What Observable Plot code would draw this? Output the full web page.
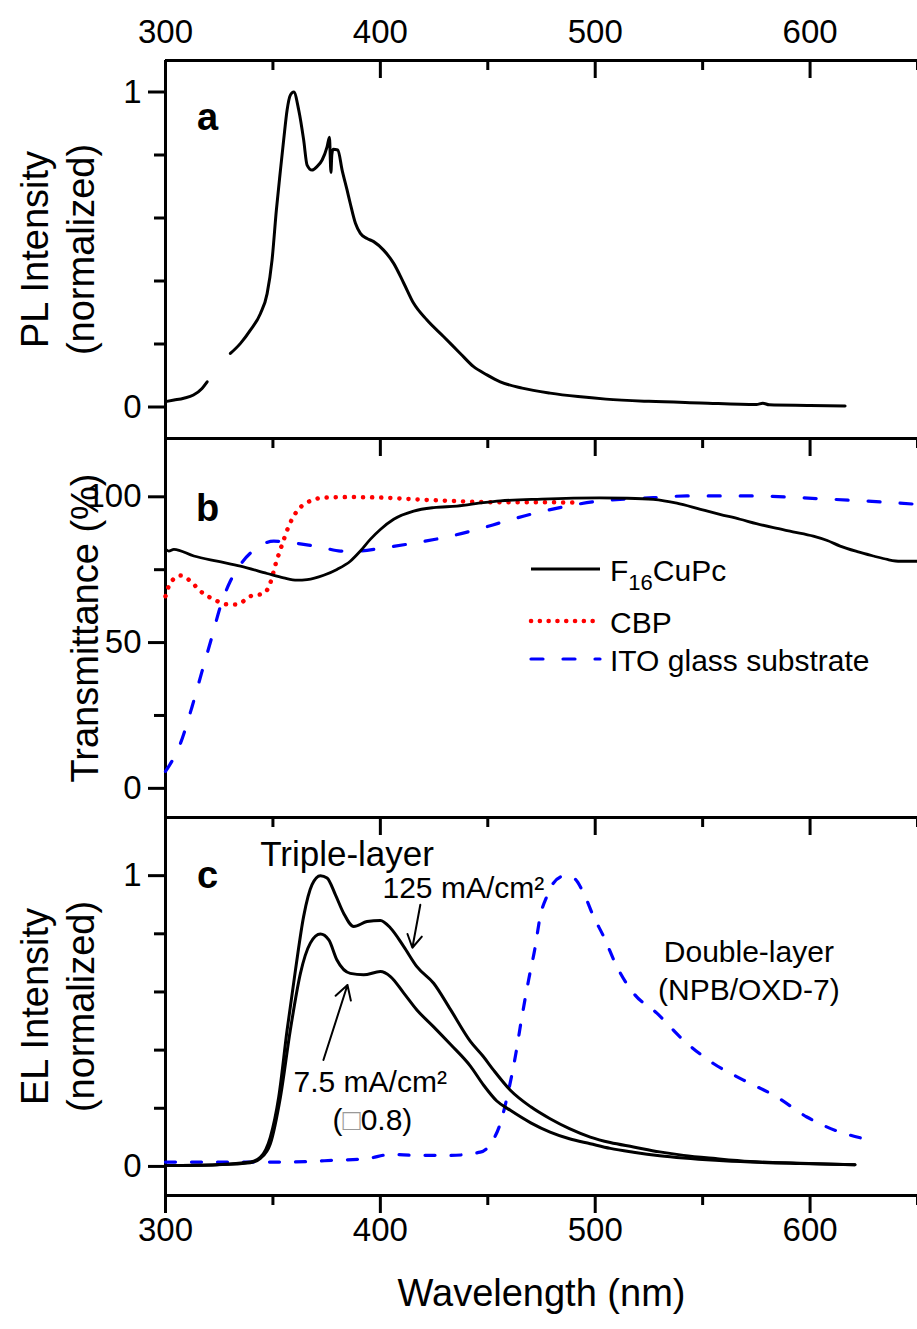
<!DOCTYPE html>
<html>
<head>
<meta charset="utf-8">
<script src="https://cdn.jsdelivr.net/npm/d3@7"></script>
<script src="https://cdn.jsdelivr.net/npm/@observablehq/plot@0.6"></script>
<style>
  body { margin: 0; background: #fff; }
  #chart { position: relative; width: 917px; height: 1329px; overflow: hidden; background: #fff; }
  #chart svg { position: absolute; left: 0; }
</style>
</head>
<body>
<div id="chart"></div>
<script>
// ---------------- data ----------------
const xMajorTicks = [300, 400, 500, 600];
const xMinorTicks = [350, 450, 550, 650];
const aMajorTicks = [0, 1];
const aMinorTicks = [0.2, 0.4, 0.6, 0.8];
const bMajorTicks = [0, 50, 100];
const bMinorTicks = [25, 75];
const cMajorTicks = [0, 1];
const cMinorTicks = [0.2, 0.4, 0.6, 0.8];

// (a) PL spectrum (two measured segments)
const plWave = [300, 304, 308.5, 313, 317, 319.4,
  330.2, 334.9, 339.5, 344.2, 347.3, 349.6, 351.6, 353.5, 355, 356.6, 358.1, 359.7, 362, 364.3, 365.9,
  368.2, 370.5, 372.9, 375.2, 376.3, 377.0, 377.4, 378.0, 380.2, 382.2, 384.5, 386, 388.4, 390.7, 393.8,
  396.9, 401.5, 406.2, 410.9, 415.5, 421.7, 429.5, 437.2, 443.4, 449.6, 455.8, 466, 479, 492, 505, 525,
  549, 575, 578, 581, 600, 616.3];
const plValue = [0.017, 0.022, 0.028, 0.038, 0.059, 0.08,
  0.17, 0.202, 0.244, 0.297, 0.36, 0.467, 0.625, 0.752, 0.848, 0.943, 0.99, 1.0, 0.943, 0.848, 0.768,
  0.752, 0.763, 0.784, 0.826, 0.856, 0.745, 0.80, 0.818, 0.816, 0.752, 0.689, 0.646, 0.583, 0.551, 0.535,
  0.525, 0.498, 0.456, 0.393, 0.329, 0.276, 0.223, 0.17, 0.128, 0.102, 0.08, 0.06, 0.044, 0.033, 0.025, 0.018,
  0.013, 0.008, 0.012, 0.007, 0.005, 0.003];
const plSegment = [1, 1, 1, 1, 1, 1,
  2, 2, 2, 2, 2, 2, 2, 2, 2, 2, 2, 2, 2, 2, 2, 2, 2, 2, 2, 2, 2, 2, 2, 2, 2, 2, 2, 2, 2, 2,
  2, 2, 2, 2, 2, 2, 2, 2, 2, 2, 2, 2, 2, 2, 2, 2, 2, 2, 2, 2, 2, 2];

// (b) transmittance
const f16Wave = [300, 301.5, 303.9, 313.2, 324, 334.9, 347.3, 355, 361.2, 365.9, 373.6, 379.8, 386, 390.7,
  395.3, 400, 406.2, 415.5, 424.8, 435.7, 448, 455.8, 475, 502, 515, 527, 538, 549, 558, 567.4, 575, 583,
  592, 601.5, 608, 614, 622, 629.5, 636, 642, 650];
const f16Trans = [82.0, 81.4, 82.0, 79.7, 77.9, 76.2, 73.7, 72.2, 71.4, 71.6, 73.1, 75.1, 77.9, 81.4,
  85.4, 88.8, 92.3, 95.1, 96.3, 96.8, 98.0, 98.6, 99.2, 99.6, 99.5, 99.1, 97.8, 95.7, 94.0, 92.3, 90.8, 89.4,
  88.0, 86.5, 85.0, 83.1, 81.2, 79.7, 78.5, 77.9, 77.9];
const cbpWave = [300, 302.3, 307, 311.6, 316.3, 322.5, 328.7, 333.3, 339.5, 345.7, 348.8, 351.2, 354.3,
  357.4, 361.2, 365.9, 373.6, 386, 401.5, 417, 432.6, 448, 465, 480, 493];
const cbpTrans = [65.9, 70.5, 73.0, 71.1, 67.6, 64.8, 63.1, 63.1, 65.9, 66.8, 70.5, 76.8, 83.7,
  90.0, 95.1, 98.0, 99.7, 99.9, 99.7, 99.1, 98.6, 98.2, 98.1, 98.1, 98.0];
const itoWave = [300, 307, 312.4, 317, 321.7, 325.6, 330.2, 334.9, 342.6, 350.4, 358.1, 364.3, 373.6,
  381.4, 389.1, 401.5, 417, 432.6, 448, 455.8, 470, 485, 502.3, 515, 527, 542.6, 572, 603, 634, 650];
const itoTrans = [5.8, 15.5, 28.1, 40.1, 52.2, 62.5, 71.1, 76.8, 82.5, 84.8, 84.3, 83.7, 82.5,
  81.4, 81.4, 82.5, 84.3, 86.5, 89.4, 91.1, 94.0, 96.5, 98.6, 99.3, 99.7, 100.3, 100.3, 99.4, 98.2, 97.4];

// (c) EL spectra
const triHighWave = [300, 324, 339.5, 344.2, 348.8, 352.7, 356.6, 360.5, 364.3, 368.2, 372.1, 375.2, 379.1,
  382.9, 387.6, 393.8, 400, 404.7, 410.9, 417, 424.8, 432.6, 441.9, 448, 452.7, 460.5, 470, 479, 488, 497.7,
  507, 517.8, 530, 541.1, 556, 572.1, 595.3, 620.9];
const triHighValue = [0.003, 0.006, 0.015, 0.032, 0.101, 0.239, 0.469, 0.676, 0.86, 0.969, 1.0, 0.992, 0.934,
  0.871, 0.825, 0.842, 0.846, 0.82, 0.756, 0.687, 0.63, 0.54, 0.43, 0.377, 0.331, 0.262, 0.205, 0.164, 0.13, 0.101,
  0.082, 0.067, 0.05, 0.038, 0.027, 0.017, 0.011, 0.006];
const triLowWave = [300, 324, 339.5, 344.2, 348.8, 353.5, 358.1, 362.8, 367.4, 372.1, 376, 379.8, 386, 392.2,
  400, 404.7, 410.9, 417, 424.8, 432.6, 441.9, 448, 454.2, 460.5, 470, 479, 488, 497.7, 507, 517.8, 530, 541.1,
  556, 572.1, 595.3, 620.9];
const triLowValue = [0.003, 0.006, 0.013, 0.028, 0.078, 0.239, 0.469, 0.664, 0.768, 0.799, 0.779, 0.71, 0.664, 0.659,
  0.67, 0.653, 0.596, 0.538, 0.48, 0.42, 0.345, 0.28, 0.225, 0.193, 0.15, 0.118, 0.095, 0.078, 0.062, 0.049, 0.037, 0.029,
  0.021, 0.015, 0.01, 0.006];
const dblWave = [300, 324, 355, 378.3, 393.8, 404.7, 417, 432.6, 446.5, 451.9, 455.8, 459.7, 462.8, 465.9, 469,
  472.1, 474.4, 477.5, 480.6, 485.3, 489.9, 494.6, 499.2, 503.9, 510.1, 517.8, 528.7, 541.1, 555, 569, 584.5,
  598.5, 614, 624.8];
const dblValue = [0.015, 0.015, 0.015, 0.021, 0.027, 0.041, 0.038, 0.038, 0.049, 0.084, 0.147, 0.262, 0.377, 0.515, 0.641,
  0.756, 0.86, 0.929, 0.975, 0.998, 0.992, 0.94, 0.86, 0.791, 0.687, 0.596, 0.527, 0.434, 0.354, 0.297, 0.239,
  0.17, 0.118, 0.096];

// annotations in panel c (data coordinates)
const centeredText = ["Triple-layer", "(□0.8)", "Double-layer", "(NPB/OXD-7)"];
const centeredWave = [384.5, 396.3, 571.5, 571.5];
const centeredValue = [1.071, 0.157, 0.737, 0.606];
const centeredSize = [35, 30, 30, 30];
const leftText = ["125 mA/cm²", "7.5 mA/cm²"];
const leftWave = [401.0, 359.6];
const leftValue = [0.957, 0.288];
const arrowFromWave = [418.6, 373.5];
const arrowFromValue = [0.90, 0.366];
const arrowToWave = [414.9, 384.7];
const arrowToValue = [0.752, 0.624];

const legendNames = ["F16CuPc", "CBP", "ITO glass substrate"];

// ---------------- build tables ----------------
const plData = plWave.map((w, i) => ({w, v: plValue[i], s: plSegment[i]}));
const tab = (ws, vs) => ws.map((w, i) => ({w, v: vs[i]}));
const f16Data = tab(f16Wave, f16Trans);
const cbpData = tab(cbpWave, cbpTrans);
const itoData = tab(itoWave, itoTrans);
const hiData = tab(triHighWave, triHighValue);
const loData = tab(triLowWave, triLowValue);
const dblData = tab(dblWave, dblValue);
const centeredData = centeredText.map((t, i) => ({t, w: centeredWave[i], v: centeredValue[i], s: centeredSize[i]}));
const leftData = leftText.map((t, i) => ({t, w: leftWave[i], v: leftValue[i]}));
const arrowData = arrowFromWave.map((w, i) => ({x1: w, y1: arrowFromValue[i], x2: arrowToWave[i], y2: arrowToValue[i]}));

// ---------------- layout ----------------
const FONT = '"Liberation Sans", Arial, Helvetica, sans-serif';
const W = 917, ML = 165, FH = 378;
const TICK_FS = 33, TITLE_FS = 38, ANNO_FS = 30, LETTER_FS = 38;
const xDomain = [300, 650];
const CURVE = "monotone-x";
const chart = document.getElementById("chart");
const style = {background: "transparent", overflow: "visible", fontFamily: FONT, color: "#000"};

function topTicks(h) {
  return [
    Plot.tickX(xMajorTicks, {x: d => d, insetBottom: h - 18, strokeWidth: 3, stroke: "#000"}),
    Plot.tickX(xMinorTicks, {x: d => d, insetBottom: h - 10, strokeWidth: 3, stroke: "#000"})
  ];
}
function yAxes(major, minor) {
  return [
    Plot.axisY(major, {tickSize: 17, tickPadding: 7, strokeWidth: 3, fontSize: TICK_FS, tickFormat: d => String(d), label: null}),
    Plot.axisY(minor, {tickSize: 11, strokeWidth: 3, tickFormat: () => "", label: null})
  ];
}
function yTitle(text, dx) {
  return Plot.text([text], {text: d => d, frameAnchor: "left", textAnchor: "middle", lineAnchor: "middle", dx, rotate: -90, fontSize: TITLE_FS, fill: "#000"});
}
function letter(t, dy) {
  return Plot.text([t], {text: d => d, frameAnchor: "top-left", textAnchor: "middle", lineAnchor: "middle", dx: 42, dy, fontSize: LETTER_FS, fontWeight: "bold", fill: "#000"});
}

// Panel a
const pa = Plot.plot({
  width: W, height: 60 + FH, marginTop: 60, marginBottom: 0, marginLeft: ML, marginRight: 0, style,
  x: {domain: xDomain, label: null},
  y: {domain: [-0.1, 1.1], label: null},
  marks: [
    Plot.axisX(xMajorTicks, {anchor: "top", tickSize: 0, tickPadding: 18, fontSize: TICK_FS, label: null}),
    ...topTicks(FH),
    ...yAxes(aMajorTicks, aMinorTicks),
    Plot.ruleY([1.1], {strokeWidth: 3}),
    Plot.ruleX([300], {strokeWidth: 3}),
    Plot.line(plData, {x: "w", y: "v", z: "s", stroke: "#000", strokeWidth: 3, strokeLinejoin: "round", curve: CURVE}),
    yTitle("PL Intensity", -130),
    yTitle("(normalized)", -84),
    letter("a", 57)
  ]
});

// Panel b
const pb = Plot.plot({
  width: W, height: FH + 1, marginTop: 0, marginBottom: 0, marginLeft: ML, marginRight: 0, style,
  x: {domain: xDomain, axis: null, label: null},
  y: {domain: [-10, 120], label: null},
  marks: [
    ...topTicks(FH + 1),
    ...yAxes(bMajorTicks, bMinorTicks),
    Plot.ruleY([120], {strokeWidth: 3}),
    Plot.ruleX([300], {strokeWidth: 3}),
    Plot.line(itoData, {x: "w", y: "v", stroke: "#0000ff", strokeWidth: 3.2, strokeDasharray: "12 20", strokeLinecap: "round", curve: CURVE}),
    Plot.line(cbpData, {x: "w", y: "v", stroke: "#ff0000", strokeWidth: 4.5, strokeDasharray: "0.1 9", strokeLinecap: "round", curve: CURVE}),
    Plot.line(f16Data, {x: "w", y: "v", stroke: "#000", strokeWidth: 2.8, strokeLinejoin: "round", curve: CURVE}),
    yTitle("Transmittance (%)", -80),
    letter("b", 70)
  ]
});

// Panel c
const pc = Plot.plot({
  width: W, height: FH + 134, marginTop: 0, marginBottom: 134, marginLeft: ML, marginRight: 0, style,
  x: {domain: xDomain, label: null},
  y: {domain: [-0.1, 1.2], label: null},
  marks: [
    ...topTicks(FH),
    Plot.axisX(xMajorTicks, {anchor: "bottom", tickSize: 18, tickPadding: 4, strokeWidth: 3, fontSize: TICK_FS, label: null}),
    Plot.axisX(xMinorTicks, {anchor: "bottom", tickSize: 10, strokeWidth: 3, tickFormat: () => "", label: null}),
    ...yAxes(cMajorTicks, cMinorTicks),
    Plot.ruleY([1.2], {strokeWidth: 3}),
    Plot.ruleY([-0.1], {strokeWidth: 3}),
    Plot.ruleX([300], {strokeWidth: 3}),
    Plot.line(dblData, {x: "w", y: "v", stroke: "#0000ff", strokeWidth: 3.2, strokeDasharray: "10 16", strokeLinecap: "round", curve: CURVE}),
    Plot.line(loData, {x: "w", y: "v", stroke: "#000", strokeWidth: 3, strokeLinejoin: "round", curve: CURVE}),
    Plot.line(hiData, {x: "w", y: "v", stroke: "#000", strokeWidth: 3, strokeLinejoin: "round", curve: CURVE}),
    Plot.arrow(arrowData, {x1: "x1", y1: "y1", x2: "x2", y2: "y2", stroke: "#000", strokeWidth: 2, headLength: 12}),
    Plot.text(centeredData, {x: "w", y: "v", text: "t", fontSize: "s", textAnchor: "middle", fill: "#000"}),
    Plot.text(leftData, {x: "w", y: "v", text: "t", fontSize: ANNO_FS, textAnchor: "start", fill: "#000"}),
    yTitle("EL Intensity", -130),
    yTitle("(normalized)", -84),
    letter("c", 58),
    Plot.text(["Wavelength (nm)"], {text: d => d, frameAnchor: "bottom", dy: 110, fontSize: 38, fill: "#000"})
  ]
});

// grey "missing glyph" box as in the source figure
d3.select(pc).selectAll("text").each(function () {
  if (this.textContent === "(□0.8)") {
    const sel = d3.select(this); sel.text(null);
    sel.append("tspan").text("(");
    sel.append("tspan").attr("fill", "#999").text("□");
    sel.append("tspan").text("0.8)");
  }
});

function place(svg, top) { svg.style.top = top + "px"; chart.appendChild(svg); }
place(pa, 0);
place(pb, 438);
place(pc, 817);

// legend inside panel b (layout only)
const lg = d3.select(pb).append("g").attr("font-family", FONT).attr("font-size", 30).attr("text-anchor", "start");
const legendY = [131, 183, 221];
const legendStyle = [
  {stroke: "#000", width: 3, dash: null, cap: "butt"},
  {stroke: "#ff0000", width: 4.5, dash: "0.1 8.7", cap: "round"},
  {stroke: "#0000ff", width: 3.2, dash: "12 20", cap: "round"}
];
legendNames.forEach((name, i) => {
  const s = legendStyle[i];
  const ln = lg.append("line").attr("x1", 531).attr("x2", 600).attr("y1", legendY[i]).attr("y2", legendY[i])
    .attr("stroke", s.stroke).attr("stroke-width", s.width).attr("stroke-linecap", s.cap);
  if (s.dash) ln.attr("stroke-dasharray", s.dash);
  const tx = lg.append("text").attr("x", 610).attr("y", legendY[i] + 12).attr("fill", "#000").attr("text-anchor", "start");
  if (name === "F16CuPc") {
    tx.append("tspan").text("F");
    tx.append("tspan").attr("font-size", 22).attr("dy", 9).text("16");
    tx.append("tspan").attr("dy", -9).text("CuPc");
  } else {
    tx.text(name);
  }
});
</script>
</body>
</html>
